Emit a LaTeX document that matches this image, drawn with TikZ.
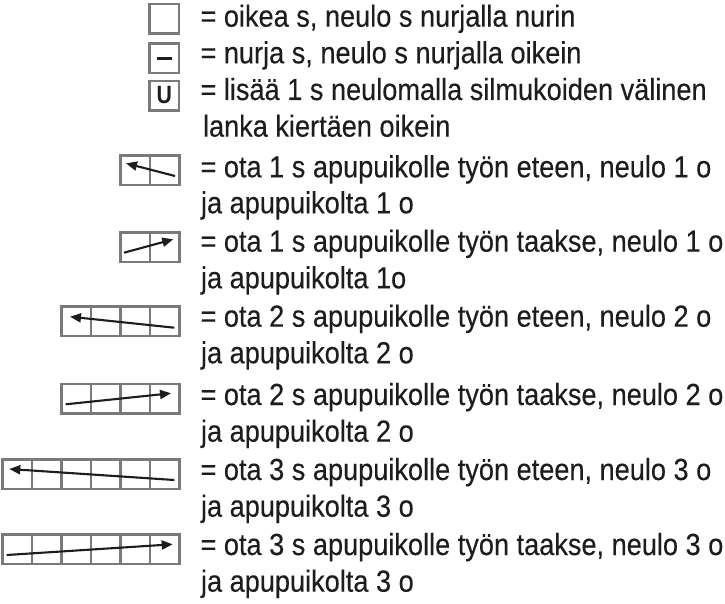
\documentclass[tikz,border=0pt]{standalone}
\usepackage{fontspec}
\usetikzlibrary{arrows.meta}
\newfontfamily\legendfont{Liberation Sans}[FakeStretch=0.89,FakeBold=0.25]
\newfontfamily\ufont{Liberation Sans}[FakeStretch=0.85]
\definecolor{ink}{HTML}{1E1C1D}
\definecolor{boxgray}{HTML}{7A7A7A}
\tikzset{
  cellbox/.style={draw=boxgray, line width=2.1pt},
  legend/.style={anchor=base west, inner sep=0pt, outer sep=0pt, text=ink,
    font=\legendfont\fontsize{30.5}{36}\selectfont},
  knit/.style={-{Triangle[length=11pt,width=9pt]}, line width=2.1pt, draw=ink},
  minus/.style={line width=2.1pt, draw=ink},
}
\newcommand{\cellrow}[3]{% x0, y0, n
  \foreach \i in {1,...,#3}{
    \draw[cellbox] ({#1+(\i-1)*29.5},#2) rectangle ++(29.5,29.5);
  }
}
\begin{document}
\begin{tikzpicture}[x=1pt,y=-1pt]
\useasboundingbox (0,0) rectangle (725,604);
% boxes
\cellrow{149.5}{4}{1}
\cellrow{149.5}{43.5}{1}
\cellrow{149.5}{81}{1}
\cellrow{120.5}{155.5}{2}
\cellrow{120.5}{232.5}{2}
\cellrow{61.5}{306.5}{4}
\cellrow{61.5}{384}{4}
\cellrow{2.5}{459.5}{6}
\cellrow{2.5}{534.5}{6}
% symbols
\coordinate (m1) at (157,58.5);
\coordinate (m2) at (172,58.5);
\draw[minus] (m1) -- (m2);
\node[inner sep=0pt, text=ink, font=\ufont\bfseries\fontsize{25}{25}\selectfont] (u) at (164.3,95.5) {U};
% arrows
\coordinate (a4s) at (175,176);   \coordinate (a4e) at (126,163.3);
\coordinate (a5s) at (124,252.7); \coordinate (a5e) at (173.3,239.3);
\coordinate (a6s) at (174.3,327.7); \coordinate (a6e) at (70,316.7);
\coordinate (a7s) at (65.7,404.3); \coordinate (a7e) at (171,393.3);
\coordinate (a8s) at (174.3,480); \coordinate (a8e) at (9.3,469);
\coordinate (a9s) at (6.7,555); \coordinate (a9e) at (172.7,544.3);
\draw[knit] (a4s) -- (a4e);
\draw[knit] (a5s) -- (a5e);
\draw[knit] (a6s) -- (a6e);
\draw[knit] (a7s) -- (a7e);
\draw[knit] (a8s) -- (a8e);
\draw[knit] (a9s) -- (a9e);
% texts
\node[legend] (t1) at (200.5,26.7) {= oikea s, neulo s nurjalla nurin};
\node[legend] (t2) at (200.5,63.3) {= nurja s, neulo s nurjalla oikein};
\node[legend] (t3) at (200.5,100) {= lisää 1 s neulomalla silmukoiden välinen};
\node[legend] (t4) at (203,136.7) {lanka kiertäen oikein};
\node[legend] (t5) at (200.5,177.3) {= ota 1 s apupuikolle työn eteen, neulo 1 o};
\node[legend] (t6) at (201,213.3) {ja apupuikolta 1 o};
\node[legend] (t7) at (200.5,251.7) {= ota 1 s apupuikolle työn taakse, neulo 1 o};
\node[legend] (t8) at (201,288.3) {ja apupuikolta 1o};
\node[legend] (t9) at (200.5,326.7) {= ota 2 s apupuikolle työn eteen, neulo 2 o};
\node[legend] (t10) at (201,363.3) {ja apupuikolta 2 o};
\node[legend] (t11) at (200.5,405) {= ota 2 s apupuikolle työn taakse, neulo 2 o};
\node[legend] (t12) at (201,441.7) {ja apupuikolta 2 o};
\node[legend] (t13) at (200.5,480) {= ota 3 s apupuikolle työn eteen, neulo 3 o};
\node[legend] (t14) at (201,516.7) {ja apupuikolta 3 o};
\node[legend] (t15) at (200.5,555) {= ota 3 s apupuikolle työn taakse, neulo 3 o};
\node[legend] (t16) at (201,591.7) {ja apupuikolta 3 o};
\end{tikzpicture}
\end{document}
